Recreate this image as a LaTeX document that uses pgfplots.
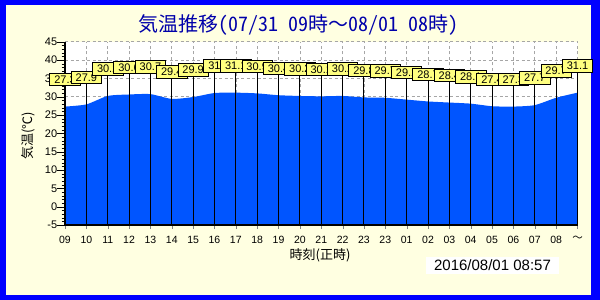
\documentclass[border=0pt]{standalone}
\usepackage{pgfplots}
\pgfplotsset{compat=1.18}
\usepackage{pgfplotstable}
\usepackage{fontspec}
\setmainfont{Liberation Sans}
\newfontfamily\cjk{Noto Sans CJK JP}
\newfontfamily\cjkh[RawFeature=+hwid]{Noto Sans CJK JP}
\definecolor{frameblue}{RGB}{0,0,255}
\definecolor{bgcream}{RGB}{255,255,225}
\definecolor{areablue}{RGB}{0,85,255}
\definecolor{titleblue}{RGB}{0,0,170}
\definecolor{labyellow}{RGB}{255,255,128}

\pgfplotstableread{
x v lab ep em
0 27.3 27.3 7 32.3
1 27.9 27.9 7 32.9
2 30.2 30.2 7 35.2
3 30.6 30.6 7 35.6
4 30.7 30.7 7 35.7
5 29.4 29.4 7 34.4
6 29.9 29.9 7 34.9
7 31.0 31 7 36.0
8 31.1 31.1 7 36.1
9 30.9 30.9 7 35.9
10 30.4 30.4 7 35.4
11 30.2 30.2 7 35.2
12 30.1 30.1 7 35.1
13 30.2 30.2 7 35.2
14 29.8 29.8 7 34.8
15 29.7 29.7 7 34.7
16 29.2 29.2 7 34.2
17 28.7 28.7 7 33.7
18 28.4 28.4 7 33.4
19 28.1 28.1 7 33.1
20 27.4 27.4 7 32.4
21 27.3 27.3 7 32.3
22 27.7 27.7 7 32.7
23 29.7 29.7 7 34.7
24 31.1 31.1 7 36.1
}\temps

\begin{document}
\begin{tikzpicture}[x=1pt,y=1pt]
\useasboundingbox (0,0) rectangle (600,300);
\fill[frameblue] (0,0) rectangle (600,300);
\fill[bgcream] (5.5,5) rectangle (590.5,294.5);
\begin{axis}[
  at={(65pt,75pt)}, anchor=south west,
  scale only axis, width=512.5pt, height=183.3pt,
  xmin=0, xmax=24, ymin=-5, ymax=45,
  axis background/.style={fill=white},
  axis x line*=bottom, axis y line*=left,
  axis line style={draw=none},
  xtick={0,...,24},
  xticklabels={09,10,11,12,13,14,15,16,17,18,19,20,21,22,23,23,01,02,03,04,05,06,07,08,{\cjk ～}},
  ytick={-5,0,5,10,15,20,25,30,35,40,45},
  yticklabels={-5,0,5,10,15,20,25,30,35,40,45},
  minor y tick num=4,
  tick align=outside,
  grid=major,
  major grid style={gray!70, dash pattern=on 3pt off 2.5pt, line width=0.6pt},
  xtick style={gray, /pgfplots/major tick length=4pt},
  ytick style={black, /pgfplots/major tick length=8pt},
  minor tick length=3.5pt,
  xticklabel style={font=\fontsize{10.5}{11}\selectfont, yshift=-3pt},
  yticklabel style={font=\fontsize{11}{12}\selectfont},
  clip=false,
]
\addplot[fill=areablue, draw=none, smooth, tension=0.4] table[x=x,y=v]{\temps} -- (axis cs:24,-5) -- (axis cs:0,-5) -- cycle;
\draw[black, line width=2.3pt] (axis cs:0,-5) -- (axis cs:24,-5);
\draw[black, line width=1.3pt] (axis cs:0,-5) -- (axis cs:0,45);
\addplot[draw=none, mark=none, point meta=explicit symbolic,
  nodes near coords,
  every node near coord/.append style={anchor=center, yshift=27pt, fill=labyellow, draw=black, line width=0.8pt, inner xsep=4.5pt, inner ysep=1pt, minimum height=12.5pt, font=\fontsize{11}{12}\selectfont, text=black},
  error bars/.cd, y dir=both, y explicit, error mark=none,
  error bar style={draw=black, line width=1pt}]
  table[x=x,y=v,y error plus=ep,y error minus=em,meta=lab]{\temps};
\end{axis}
\node[text=titleblue, font=\cjkh\fontsize{20}{21}\selectfont] at (298,274.5) {気温推移(07/31 09時{\cjk ～}08/01 08時)};
\node[rotate=90, font=\cjk\fontsize{13}{14}\selectfont] at (28.5,164.3) {気温(℃)};
\node[font=\cjk\fontsize{13}{14}\selectfont] at (320,45) {時刻(正時)};
\node[fill=white, inner sep=0pt, minimum width=133pt, minimum height=17pt, font=\fontsize{15}{16}\selectfont] at (492.5,34.5) {2016/08/01 08:57};
\end{tikzpicture}
\end{document}
